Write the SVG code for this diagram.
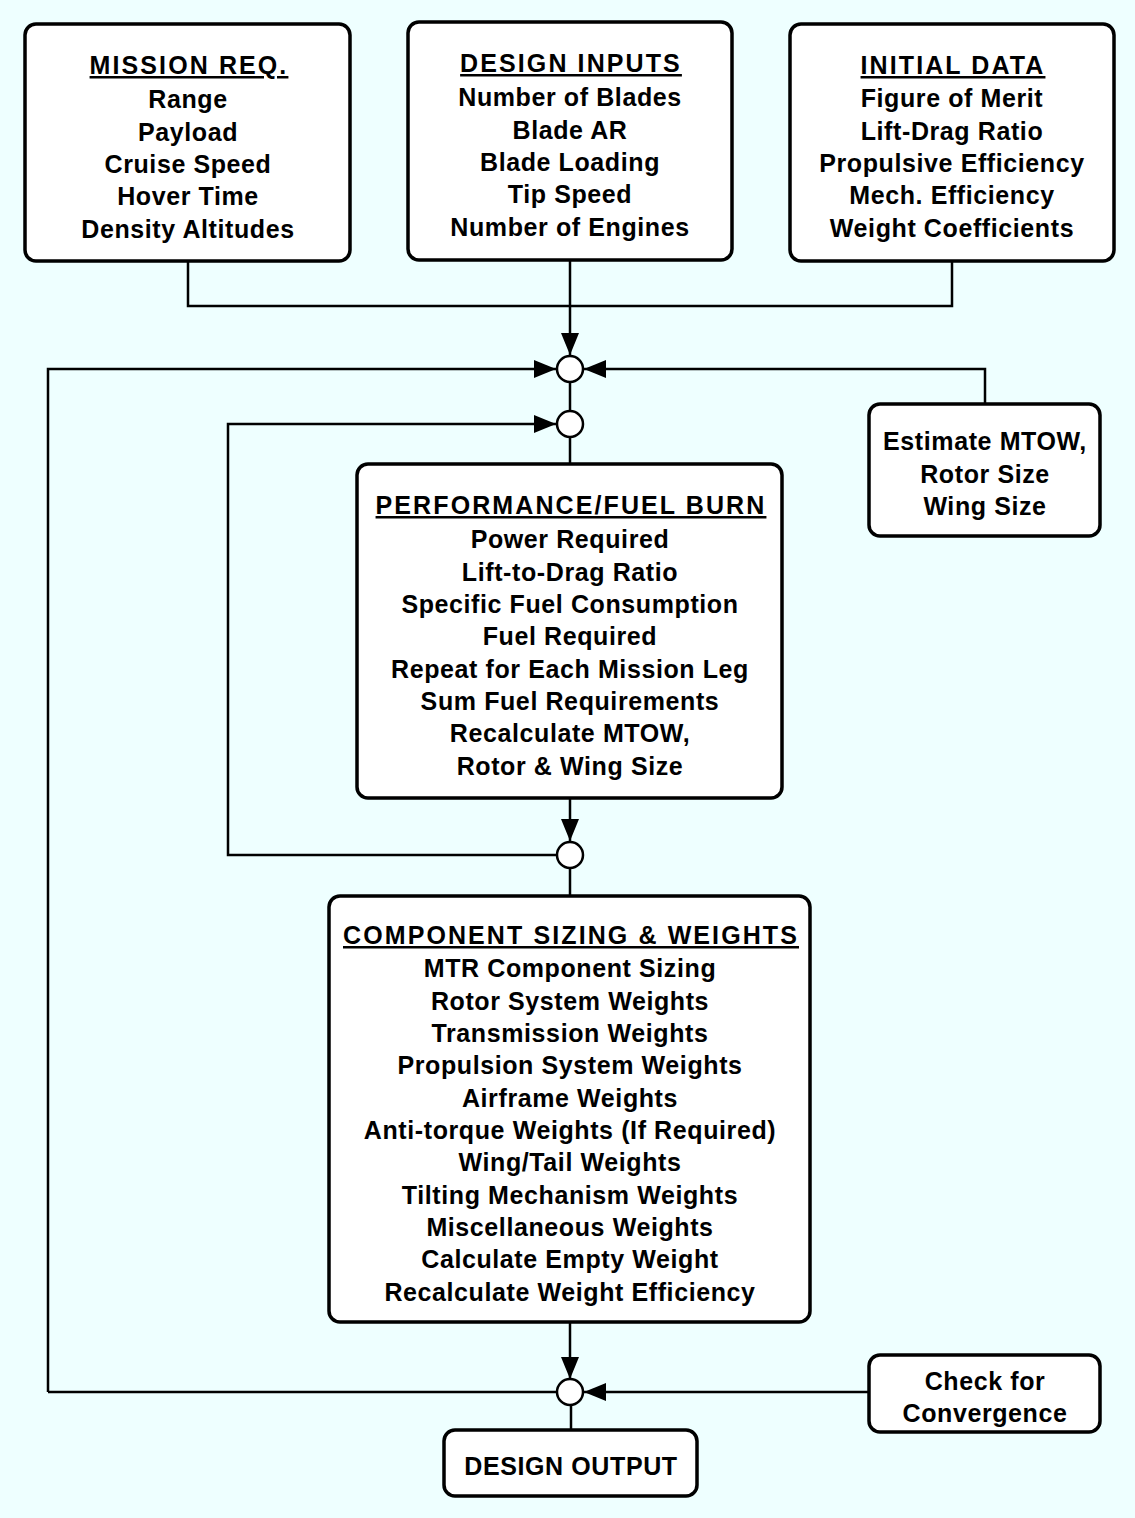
<svg xmlns="http://www.w3.org/2000/svg" width="1135" height="1518" viewBox="0 0 1135 1518">
<style>
.box{fill:#fff;stroke:#000;stroke-width:3.5}
.t{font-family:"Liberation Sans",Arial,sans-serif;font-weight:bold;font-size:25px;text-anchor:middle;fill:#000;letter-spacing:0.6px}
.u{text-decoration:underline;letter-spacing:2.1px}
.ln{fill:none;stroke:#000;stroke-width:2.5}
.j{fill:#fff;stroke:#000;stroke-width:2.5}
</style>
<defs>
<marker id="ah" markerUnits="userSpaceOnUse" markerWidth="22" markerHeight="18" refX="22" refY="9" orient="auto">
<path d="M0,0 L22,9 L0,18 z" fill="#000"/>
</marker>
</defs>
<rect width="1135" height="1518" fill="#eeffff"/>
<g id="connectors">
<path class="ln" d="M188,261 V306 H952 V261"/>
<path class="ln" d="M570,260 V355" marker-end="url(#ah)"/>
<path class="ln" d="M48,1392 V369 H556" marker-end="url(#ah)"/>
<path class="ln" d="M985,404 V369 H584" marker-end="url(#ah)"/>
<path class="ln" d="M570,382 V410"/>
<path class="ln" d="M556,855 H228 V424 H556" marker-end="url(#ah)"/>
<path class="ln" d="M570,437 V464"/>
<path class="ln" d="M570,798 V841" marker-end="url(#ah)"/>
<path class="ln" d="M570,868 V896"/>
<path class="ln" d="M570,1322 V1379" marker-end="url(#ah)"/>
<path class="ln" d="M48,1392 H557"/>
<path class="ln" d="M869,1392 H584" marker-end="url(#ah)"/>
<path class="ln" d="M571,1405 V1430"/>
<circle class="j" cx="570" cy="369" r="13"/>
<circle class="j" cx="570" cy="424" r="13"/>
<circle class="j" cx="570" cy="855" r="13"/>
<circle class="j" cx="570" cy="1392" r="13"/>
</g>
<g id="mission">
<rect class="box" x="25" y="24" width="325" height="237" rx="11"/>
<text class="t u" x="189" y="74">MISSION REQ.</text>
<text class="t" x="188" y="108">Range</text>
<text class="t" x="188" y="140.5">Payload</text>
<text class="t" x="188" y="173">Cruise Speed</text>
<text class="t" x="188" y="205">Hover Time</text>
<text class="t" x="188" y="237.5">Density Altitudes</text>
</g>
<g id="design-inputs">
<rect class="box" x="408" y="22" width="324" height="238" rx="11"/>
<text class="t u" x="571" y="72">DESIGN INPUTS</text>
<text class="t" x="570" y="106">Number of Blades</text>
<text class="t" x="570" y="138.5">Blade AR</text>
<text class="t" x="570" y="171">Blade Loading</text>
<text class="t" x="570" y="203">Tip Speed</text>
<text class="t" x="570" y="235.5">Number of Engines</text>
</g>
<g id="initial-data">
<rect class="box" x="790" y="24" width="324" height="237" rx="11"/>
<text class="t u" x="953" y="74">INITIAL DATA</text>
<text class="t" x="952" y="107">Figure of Merit</text>
<text class="t" x="952" y="139.5">Lift-Drag Ratio</text>
<text class="t" x="952" y="172">Propulsive Efficiency</text>
<text class="t" x="952" y="204">Mech. Efficiency</text>
<text class="t" x="952" y="236.5">Weight Coefficients</text>
</g>
<g id="estimate">
<rect class="box" x="869" y="404" width="231" height="132" rx="11"/>
<text class="t" x="985" y="450">Estimate MTOW,</text>
<text class="t" x="985" y="482.5">Rotor Size</text>
<text class="t" x="985" y="515">Wing Size</text>
</g>
<g id="performance">
<rect class="box" x="357" y="464" width="425" height="334" rx="11"/>
<text class="t u" x="571" y="514">PERFORMANCE/FUEL BURN</text>
<text class="t" x="570" y="548">Power Required</text>
<text class="t" x="570" y="580.5">Lift-to-Drag Ratio</text>
<text class="t" x="570" y="613">Specific Fuel Consumption</text>
<text class="t" x="570" y="645">Fuel Required</text>
<text class="t" x="570" y="677.5">Repeat for Each Mission Leg</text>
<text class="t" x="570" y="710">Sum Fuel Requirements</text>
<text class="t" x="570" y="742">Recalculate MTOW,</text>
<text class="t" x="570" y="774.5">Rotor &amp; Wing Size</text>
</g>
<g id="components">
<rect class="box" x="329" y="896" width="481" height="426" rx="11"/>
<text class="t u" x="571" y="944">COMPONENT SIZING &amp; WEIGHTS</text>
<text class="t" x="570" y="977">MTR Component Sizing</text>
<text class="t" x="570" y="1009.5">Rotor System Weights</text>
<text class="t" x="570" y="1042">Transmission Weights</text>
<text class="t" x="570" y="1074">Propulsion System Weights</text>
<text class="t" x="570" y="1106.5">Airframe Weights</text>
<text class="t" x="570" y="1139">Anti-torque Weights (If Required)</text>
<text class="t" x="570" y="1171">Wing/Tail Weights</text>
<text class="t" x="570" y="1203.5">Tilting Mechanism Weights</text>
<text class="t" x="570" y="1236">Miscellaneous Weights</text>
<text class="t" x="570" y="1268">Calculate Empty Weight</text>
<text class="t" x="570" y="1300.5">Recalculate Weight Efficiency</text>
</g>
<g id="check">
<rect class="box" x="869" y="1355" width="231" height="77" rx="11"/>
<text class="t" x="985" y="1390">Check for</text>
<text class="t" x="985" y="1422">Convergence</text>
</g>
<g id="output">
<rect class="box" x="444" y="1430" width="253" height="66" rx="11"/>
<text class="t" x="571" y="1475">DESIGN OUTPUT</text>
</g>
</svg>
